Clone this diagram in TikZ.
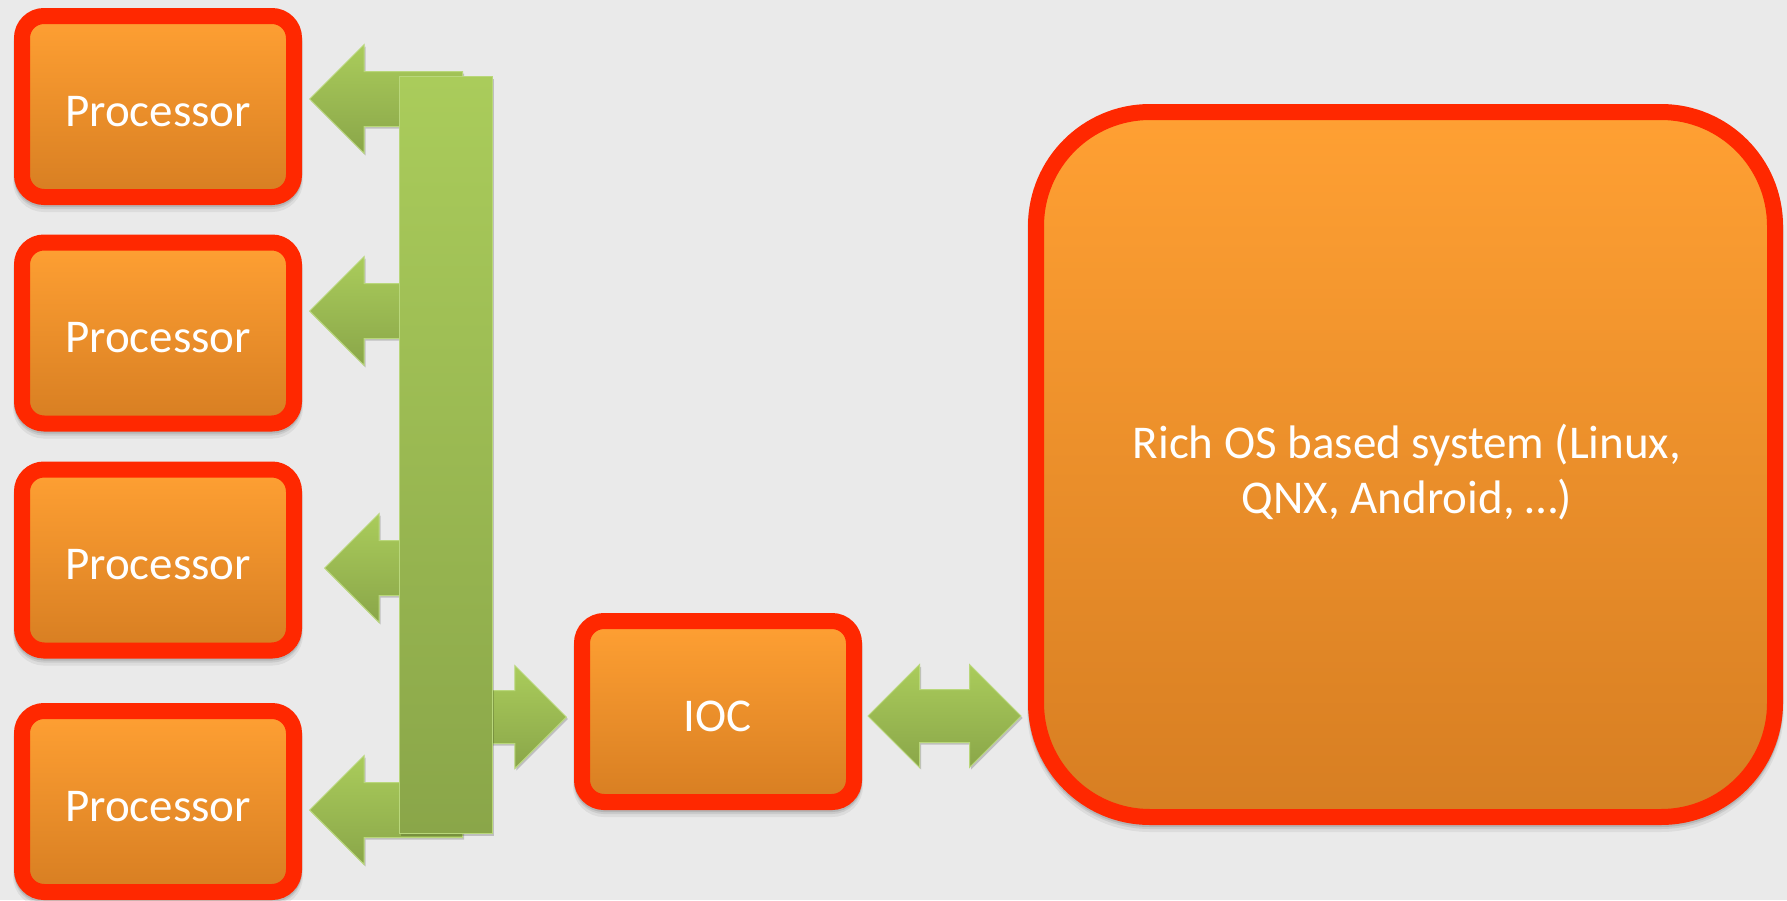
\documentclass[tikz,border=0pt]{standalone}
\usepackage{fontspec}
\setmainfont{Carlito}
\usetikzlibrary{shapes.arrows,shadows}

\definecolor{bgc}{HTML}{EAEAEA}
\definecolor{boxred}{HTML}{FF2800}
\definecolor{ortop}{HTML}{FFA033}
\definecolor{orbot}{HTML}{D77E22}
\definecolor{grtop}{HTML}{AACC5B}
\definecolor{grbot}{HTML}{8AA649}
\definecolor{grline}{HTML}{B9D77B}

\begin{document}
\begin{tikzpicture}[x=1pt,y=-1pt,
  boxshadow/.style={
    drop shadow={shadow xshift=0pt, shadow yshift=-6pt, opacity=0.06, fill=black, draw=black, line width=18pt},
    drop shadow={shadow xshift=0pt, shadow yshift=-4pt, opacity=0.08, fill=black, draw=black, line width=16pt},
    drop shadow={shadow xshift=0pt, shadow yshift=-2pt, opacity=0.10, fill=black, draw=black, line width=16pt}},
  box/.style={rectangle, rounded corners=22pt, boxshadow, draw=boxred, line width=16pt,
    top color=ortop, bottom color=orbot, text=white, inner sep=0pt,
    font=\fontsize{47}{55}\selectfont, text height=39pt, text depth=0pt,
    minimum width=272pt, minimum height=181pt},
  greenpart/.style={top color=grtop, bottom color=grbot, draw=grline, line width=1pt,
    inner sep=0pt,
    drop shadow={shadow xshift=1.5pt, shadow yshift=-2pt, opacity=0.18, fill=black}},
  larrow/.style={greenpart, single arrow, shape border rotate=180, anchor=tip,
    inner xsep=0pt, inner ysep=27pt,
    single arrow tip angle=90, single arrow head extend=27pt,
    minimum width=108pt, minimum height=153pt},
  rarrow/.style={greenpart, single arrow, anchor=tip,
    inner xsep=0pt, inner ysep=26pt,
    single arrow tip angle=90, single arrow head extend=25pt,
    minimum width=102pt, minimum height=127pt},
  darrow/.style={greenpart, double arrow,
    inner xsep=0pt, inner ysep=26pt,
    double arrow tip angle=90, double arrow head extend=25pt,
    minimum width=102pt, minimum height=153pt},
  bus/.style={greenpart, rectangle, anchor=north west,
    minimum width=93pt, minimum height=757pt}
]
\useasboundingbox (0,0) rectangle (1787,900);
\fill[bgc] (0,0) rectangle (1787,900);

% links from the bus to the processors and to the IOC
\node[larrow] (a1) at (309,99) {};
\node[larrow] (a2) at (309,311) {};
\node[larrow] (a3) at (324,568) {};
\node[larrow] (a4) at (309,810) {};
\node[rarrow] (a5) at (567,717) {};

% shared bus
\node[bus] (bus) at (399,76) {};

% IOC <-> rich OS link
\node[darrow] (a6) at (944.5,716) {};

% processors
\node[box] (p1) at (158,106.5) {Processor};
\node[box] (p2) at (158,333) {Processor};
\node[box] (p3) at (158,560) {Processor};
\node[box] (p4) at (158,801.5) {Processor};

% I/O controller
\node[box] (ioc) at (718,711.5) {IOC};

% rich OS system
\node[box, rounded corners=114pt, minimum width=739pt, minimum height=705pt] (os) at (1405.5,464.5) {};
\node[text=white, font=\fontsize{47}{55}\selectfont, align=center, inner sep=0pt] (ostext) at (1407,472)
  {Rich OS based system (Linux,\\QNX, Android, …)};
\end{tikzpicture}
\end{document}
